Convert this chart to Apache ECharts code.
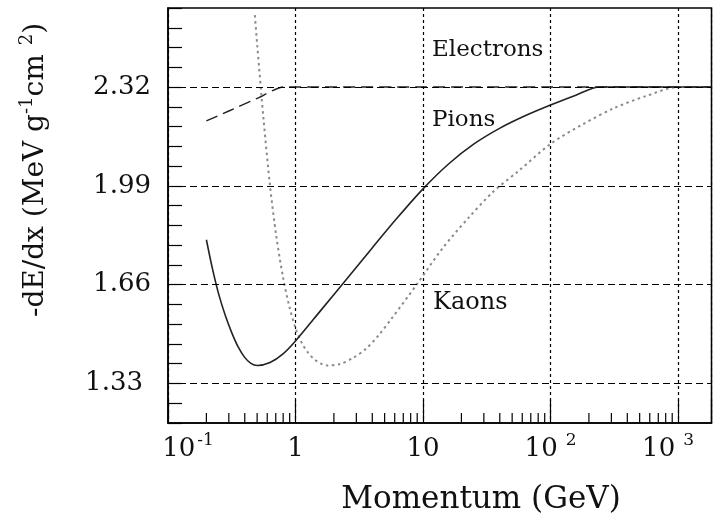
<!DOCTYPE html>
<html>
<head>
<meta charset="utf-8">
<script src="https://cdn.jsdelivr.net/npm/echarts@6/dist/echarts.min.js"></script>
<style>
  html, body { margin: 0; padding: 0; background: #fff; }
  #chart { width: 717px; height: 517px; }
</style>
</head>
<body>
<div id="chart"></div>
<script>
// Momentum in GeV, -dE/dx in MeV g^-1 cm^2
const electronP = [0.2, 0.3, 0.5, 0.8, 1, 10, 100, 1000, 1830];
const electronDEdx = [2.207, 2.24, 2.282, 2.32, 2.32, 2.32, 2.32, 2.32, 2.32];

const pionP = [0.2, 0.224, 0.251, 0.282, 0.316, 0.355, 0.398, 0.447, 0.501, 0.631, 0.794, 1.0, 1.585, 2.512, 3.98, 6.31, 10, 15.85, 25.1, 39.8, 63.1, 100, 158, 243, 1830];
const pionDEdx = [1.81, 1.71, 1.625, 1.556, 1.50, 1.452, 1.418, 1.397, 1.39, 1.40, 1.428, 1.472, 1.575, 1.678, 1.782, 1.884, 1.98, 2.063, 2.13, 2.182, 2.224, 2.26, 2.293, 2.32, 2.32];

const kaonP = [0.48, 0.501, 0.562, 0.631, 0.708, 0.794, 0.891, 1.0, 1.122, 1.259, 1.413, 1.585, 1.778, 2.239, 2.818, 3.548, 4.467, 5.623, 8.913, 14.13, 22.39, 35.48, 56.2, 100, 178, 316, 562, 1000, 1830];
const kaonDEdx = [2.56, 2.46, 2.21, 1.99, 1.82, 1.69, 1.59, 1.515, 1.465, 1.432, 1.41, 1.396, 1.39, 1.395, 1.415, 1.445, 1.49, 1.545, 1.66, 1.78, 1.88, 1.97, 2.04, 2.13, 2.195, 2.25, 2.29, 2.32, 2.32];

// axis ranges and ticks
const xMin = 0.1, xMax = 1830;
const yMin = 1.198, yMax = 2.584, yStep = 0.066;
const xTickValues = [0.1, 1, 10, 100, 1000];
const xTickLabels = ['{p|10}{s1|-1}', '{b|1}', '{b|10}', '{b|10}{s|2}', '{b|10}{s|3}{q|}'];
const yTickValues = [1.33, 1.66, 1.99, 2.32];
const yTickLabels = ['1.33', '1.66', '1.99', '2.32'];

const pairs = (xs, ys) => xs.map((x, i) => [x, ys[i]]);

// minor ticks of the log axis: 2..9 within each decade
const minorTicks = [];
for (let d = -1; d <= 3; d++) {
  for (let m = 2; m <= 9; m++) {
    const v = m * Math.pow(10, d);
    if (v < xMax) minorTicks.push([v, yMin]);
  }
}

const serif = 'DejaVu Serif';
const ink = '#111';

const chart = echarts.init(document.getElementById('chart'), null, { renderer: 'canvas' });

chart.setOption({
  animation: false,
  backgroundColor: '#fff',
  grid: {
    left: 168, right: -3, top: 8, bottom: 94,
    show: true, borderColor: '#000', borderWidth: 1.5, backgroundColor: 'transparent'
  },
  xAxis: {
    type: 'log', logBase: 10, min: xMin, max: xMax,
    axisLine: { show: true, lineStyle: { color: '#000', width: 1.5 } },
    axisTick: { show: true, inside: true, length: 23, lineStyle: { color: '#000', width: 1.2 } },
    minorTick: { show: false },
    splitLine: { show: true, lineStyle: { color: '#000', width: 1.2, type: [3, 3] } },
    axisLabel: {
      margin: 9,
      color: ink,
      formatter: (v) => {
        const i = xTickValues.findIndex(t => Math.abs(Math.log10(t) - Math.log10(v)) < 1e-6);
        return i < 0 ? '' : xTickLabels[i];
      },
      rich: {
        b: { fontFamily: serif, fontSize: 26, lineHeight: 30, padding: [9, 0, 0, 0], verticalAlign: 'bottom', color: ink },
        p: { fontFamily: serif, fontSize: 26, lineHeight: 30, padding: [9, 0, 0, 40], verticalAlign: 'bottom', color: ink },
        s: { fontFamily: serif, fontSize: 17, lineHeight: 17, padding: [0, 0, 0, 8], verticalAlign: 'top', color: ink },
        s1: { fontFamily: serif, fontSize: 17, lineHeight: 17, padding: [0, 0, 0, 2], verticalAlign: 'top', color: ink },
        q: { width: 20, lineHeight: 17 }
      }
    }
  },
  yAxis: {
    type: 'value', min: yMin, max: yMax, interval: yStep,
    axisLine: { show: true, lineStyle: { color: '#000', width: 1.5 } },
    axisTick: { show: true, inside: true, length: 14, lineStyle: { color: '#000', width: 1.2 } },
    splitLine: { show: false },
    axisLabel: {
      margin: 17,
      color: ink,
      fontFamily: serif,
      fontSize: 26,
      formatter: (v) => {
        const i = yTickValues.findIndex(t => Math.abs(t - v) < 1e-6);
        if (i < 0) return '';
        return i === 0 ? '{w|' + yTickLabels[i] + '}' : yTickLabels[i];
      },
      rich: {
        w: { fontFamily: serif, fontSize: 26, color: ink, padding: [0, 8, 0, 0] }
      }
    }
  },
  graphic: [
    {
      type: 'text', x: 481, y: 500, silent: true,
      style: { text: 'Momentum (GeV)', fontFamily: serif, fontSize: 31, fill: ink, align: 'center', verticalAlign: 'middle' }
    },
    {
      type: 'text', x: 34, y: 170, rotation: Math.PI / 2, silent: true,
      style: {
        text: '{b|-dE/dx (MeV g}{s|-1}{b|cm }{s|2}{b|)}',
        align: 'center', verticalAlign: 'middle',
        rich: {
          b: { fontFamily: serif, fontSize: 28, lineHeight: 32, padding: [17, 0, 0, 0], verticalAlign: 'bottom', fill: ink },
          s: { fontFamily: serif, fontSize: 18, lineHeight: 18, verticalAlign: 'top', fill: ink }
        }
      }
    },
    {
      type: 'text', x: 432, y: 50, silent: true,
      style: { text: 'Electrons', fontFamily: serif, fontSize: 23, fill: ink, align: 'left', verticalAlign: 'middle' }
    },
    {
      type: 'text', x: 432, y: 120, silent: true,
      style: { text: 'Pions', fontFamily: serif, fontSize: 23, fill: ink, align: 'left', verticalAlign: 'middle' }
    },
    {
      type: 'text', x: 433, y: 303, silent: true,
      style: { text: 'Kaons', fontFamily: serif, fontSize: 24, fill: ink, align: 'left', verticalAlign: 'middle' }
    }
  ],
  series: [
    {
      name: 'gridlines',
      type: 'line',
      data: [],
      silent: true,
      markLine: {
        silent: true,
        symbol: 'none',
        label: { show: false },
        lineStyle: { color: '#000', width: 1.2, type: [7, 4] },
        data: yTickValues.map(v => ({ yAxis: v }))
      }
    },
    {
      name: 'minor ticks',
      type: 'custom',
      silent: true,
      data: minorTicks,
      renderItem: (params, api) => {
        const pt = api.coord([api.value(0), api.value(1)]);
        return {
          type: 'line',
          shape: { x1: pt[0], y1: pt[1], x2: pt[0], y2: pt[1] - 10 },
          style: { stroke: '#000', lineWidth: 1.2 }
        };
      }
    },
    {
      name: 'Electrons',
      type: 'line',
      data: pairs(electronP, electronDEdx),
      showSymbol: false,
      smooth: 0.2,
      lineStyle: { color: '#222', width: 1.4, type: [12, 6] }
    },
    {
      name: 'Kaons',
      type: 'line',
      data: pairs(kaonP, kaonDEdx),
      showSymbol: false,
      smooth: 0.3,
      lineStyle: { color: '#8a8a8a', width: 2, type: [2.5, 3.5] }
    },
    {
      name: 'Pions',
      type: 'line',
      data: pairs(pionP, pionDEdx),
      showSymbol: false,
      smooth: 0.3,
      lineStyle: { color: '#222', width: 1.6 }
    }
  ]
});
</script>
</body>
</html>
